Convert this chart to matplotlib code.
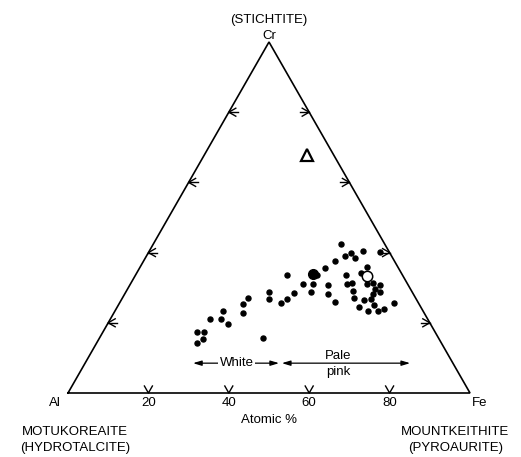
import numpy as np
import matplotlib
matplotlib.use("Agg")
import matplotlib.pyplot as plt

# atomic % Fe and Cr (Al = 100 - Fe - Cr) for the small dots
fe = [46.6, 53.2, 57.5, 50.3, 49.4, 52.3, 47.6, 46.2, 56.5, 55.7,
      45.2, 52.3, 37.7, 42.9, 45.5, 49.4, 53.8, 54.9, 58.9, 60.3,
      62.1, 61.6, 56.3, 63.3, 61.9, 46.1, 50.7, 41.8, 35.6, 36.5,
      41.2, 40.3, 57.7, 60.4, 62.0, 53.5, 68.3, 63.6, 60.3, 63.0,
      65.4, 66.7, 31.2, 30.8, 32.2, 26.9, 24.8, 27.5, 29.9, 25.1,
      25.9, 40.6, 23.4, 24.9]
cr = [42.5, 40.5, 40.3, 40.0, 39.0, 38.4, 37.7, 35.5, 35.8, 34.3,
      33.6, 33.6, 33.6, 31.1, 31.1, 30.8, 31.1, 31.3, 31.1, 31.3,
      30.8, 29.6, 29.1, 28.8, 28.1, 28.7, 28.1, 28.6, 28.7, 26.8,
      26.8, 25.6, 27.0, 26.5, 26.7, 25.8, 25.7, 25.1, 24.4, 23.4,
      23.3, 23.9, 27.2, 25.3, 22.9, 23.5, 21.0, 21.0, 19.7, 17.4,
      15.3, 15.8, 17.3, 14.2]

# special points (Fe, Cr)
big_dot = (44.1, 33.8)
open_circle = (57.8, 33.4)
triangle_pt = (25.5, 67.8)

tick_values = [20, 40, 60, 80]
tick_labels = ["20", "40", "60", "80"]


def tern(fe_v, cr_v):
    fe_v = np.asarray(fe_v, dtype=float)
    cr_v = np.asarray(cr_v, dtype=float)
    return fe_v + cr_v / 2.0, cr_v


W, H = 521, 457
fig = plt.figure(figsize=(W / 100, H / 100), dpi=100)
ax = fig.add_axes([68 / W, (H - 393) / H, 402 / W, 351 / H])
ax.set_xlim(0, 100)
ax.set_ylim(0, 100)
ax.axis("off")

PX = 100 / 402  # data units per pixel, x
PY = 100 / 351  # data units per pixel, y

plt.rcParams["font.family"] = ["Liberation Sans", "DejaVu Sans"]
fs = 9.5

# triangle outline
ax.plot([0, 100, 50, 0], [0, 0, 100, 0], color="black", lw=1.2,
        clip_on=False, solid_joinstyle="miter")


def chevron(x0, y0, pts):
    xs = [x0 + dx * PX for dx, dy in pts]
    ys = [y0 + dy * PY for dx, dy in pts]
    ax.plot(xs, ys, color="black", lw=1.0, clip_on=False)


for v, lab in zip(tick_values, tick_labels):
    # bottom edge: V
    bx, by = tern(v, 0)
    chevron(bx, by, [(-4, 7), (0, 0), (4, 7)])
    # left edge (Al-Cr): <
    lx, ly = tern(0, v)
    chevron(lx, ly, [(7, 4), (0, 0), (7, -4)])
    chevron(lx, ly, [(0, 0), (9, 0)])
    # right edge (Fe-Cr): >
    rx, ry = tern(100 - v, v)
    chevron(rx, ry, [(-7, 4), (0, 0), (-7, -4)])
    chevron(rx, ry, [(0, 0), (-9, 0)])
    ax.text(bx, -1.0, lab, ha="center", va="top", fontsize=fs)

# data
x, y = tern(fe, cr)
ax.plot(x, y, "o", color="black", ms=3.6, clip_on=False)
bx, by = tern(*big_dot)
ax.plot(bx, by, "o", color="black", ms=7)
ox, oy = tern(*open_circle)
ax.plot(ox, oy, "o", mfc="white", mec="black", mew=1.1, ms=7.5)
tx, ty = tern(*triangle_pt)
ax.plot(tx, ty, "^", mfc="white", mec="black", mew=1.6, ms=9)

# colour ranges
arrow_y = 8.5
aprops = dict(arrowstyle="<|-|>,head_length=0.5,head_width=0.15",
              color="black", lw=0.9, shrinkA=0, shrinkB=0)
ax.annotate("", xy=(31.1, arrow_y), xytext=(52.5, arrow_y), arrowprops=aprops)
ax.annotate("", xy=(53.2, arrow_y), xytext=(85.1, arrow_y), arrowprops=aprops)
ax.text(42.0, arrow_y, "White", ha="center", va="center", fontsize=fs,
        bbox=dict(facecolor="white", edgecolor="none", pad=1))
ax.text(67.2, 10.6, "Pale", ha="center", va="center", fontsize=fs,
        bbox=dict(facecolor="white", edgecolor="none", pad=0.5))
ax.text(67.2, 6.0, "pink", ha="center", va="center", fontsize=fs)

# labels
ax.text(50, 106.4, "(STICHTITE)", ha="center", va="center", fontsize=fs)
ax.text(50, 101.8, "Cr", ha="center", va="center", fontsize=fs)
ax.text(-3.2, -1.0, "Al", ha="center", va="top", fontsize=fs)
ax.text(102.5, -1.0, "Fe", ha="center", va="top", fontsize=fs)
ax.text(50, -6.0, "Atomic %", ha="center", va="top", fontsize=fs)
ax.text(1.7, -9.3, "MOTUKOREAITE", ha="center", va="top", fontsize=fs)
ax.text(1.7, -13.9, "(HYDROTALCITE)", ha="center", va="top", fontsize=fs)
ax.text(96.3, -9.3, "MOUNTKEITHITE", ha="center", va="top", fontsize=fs)
ax.text(96.3, -13.9, "(PYROAURITE)", ha="center", va="top", fontsize=fs)

fig.savefig("out.png", dpi=100)
